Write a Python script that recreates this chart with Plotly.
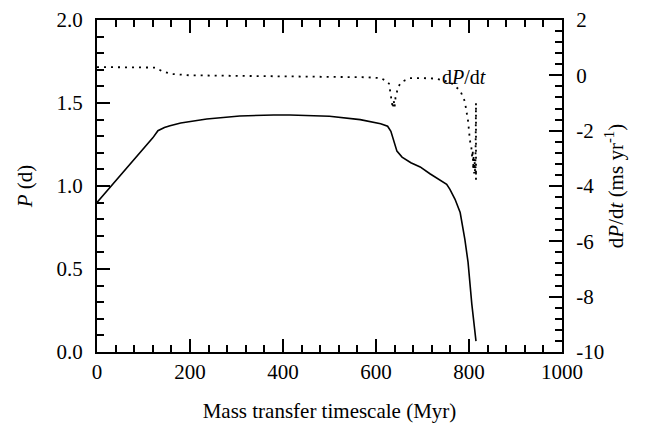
import plotly.graph_objects as go

# Period P (d) vs mass transfer timescale
t_p = [0, 40, 80, 120, 131, 145, 157, 180, 236, 307, 380, 415, 500, 566, 610,
       625, 632, 638, 645, 656, 675, 695, 716, 752, 759, 770, 781, 791, 798, 806, 815]
P = [0.90, 1.03, 1.16, 1.29, 1.333, 1.352, 1.363, 1.38, 1.404, 1.422, 1.428, 1.428,
     1.42, 1.40, 1.375, 1.36, 1.33, 1.27, 1.21, 1.174, 1.14, 1.115, 1.074, 1.01,
     0.98, 0.92, 0.84, 0.68, 0.54, 0.29, 0.065]

# dP/dt (ms/yr)
t_d = [0, 40, 80, 110, 125, 140, 160, 200, 300, 400, 500, 580, 610, 622, 628,
       631, 634, 636, 638, 640, 642, 645, 648, 656, 673, 700, 730, 760, 781, 791,
       798, 802, 805, 807, 808, 809, 810, 811, 812, 813, 814, 815, 815, 815]
dPdt = [0.30, 0.30, 0.30, 0.30, 0.28, 0.15, 0.05, 0.0, -0.02, -0.03, -0.05, -0.07,
        -0.1, -0.2, -0.3, -0.65, -1.0, -1.19, -0.9, -1.15, -0.8, -0.6, -0.4, -0.23,
        -0.1, -0.1, -0.12, -0.25, -0.55, -0.94, -1.65, -2.35, -2.6, -3.0, -2.7,
        -3.4, -2.9, -3.55, -3.1, -3.5, -3.0, -1.0, -3.77, -3.3]

# tick labels
x_ticks = [0, 200, 400, 600, 800, 1000]
x_labels = ["0", "200", "400", "600", "800", "1000"]
p_ticks = [0.0, 0.5, 1.0, 1.5, 2.0]
p_labels = ["0.0", "0.5", "1.0", "1.5", "2.0"]
d_ticks = [-10, -8, -6, -4, -2, 0, 2]
d_labels = ["-10", "-8", "-6", "-4", "-2", "0", "2"]

FONT = "Liberation Serif"
FS = 21

fig = go.Figure()
fig.add_trace(go.Scatter(x=t_p, y=P, mode="lines", line=dict(color="black", width=1.6),
                         yaxis="y", showlegend=False))
fig.add_trace(go.Scatter(x=t_d, y=dPdt, mode="lines",
                         line=dict(color="black", width=1.8, dash="2px,5px"),
                         yaxis="y2", showlegend=False))

axis_common = dict(showgrid=False, zeroline=False, showline=True, linecolor="black",
                   linewidth=2, ticks="inside", ticklen=13, tickwidth=2, tickcolor="black",
                   automargin=False, ticklabeloverflow="allow", tickmode="array",
                   tickfont=dict(family=FONT, size=FS, color="black"))

fig.update_layout(
    width=647, height=428,
    margin=dict(l=89, r=93, t=12, b=84),
    paper_bgcolor="white", plot_bgcolor="white",
    font=dict(family=FONT, size=FS, color="black"),
    xaxis=dict(range=[0, 1000], tickvals=x_ticks, ticktext=x_labels, mirror="ticks",
               minor=dict(dtick=40, ticks="inside", ticklen=7, tickwidth=2, tickcolor="black"),
               title=dict(text="Mass transfer timescale (Myr)", font=dict(family=FONT, size=FS),
                          standoff=20),
               **axis_common),
    yaxis=dict(range=[0, 2], tickvals=p_ticks, ticktext=p_labels, ticklabelstandoff=8,
               minor=dict(dtick=0.1, ticks="inside", ticklen=7, tickwidth=2, tickcolor="black"),
               title=dict(text="<i>P</i> (d)", font=dict(family=FONT, size=FS), standoff=18),
               **axis_common),
    yaxis2=dict(range=[-10, 2], tickvals=d_ticks, ticktext=d_labels, ticklabelstandoff=8,
                overlaying="y", side="right",
                minor=dict(dtick=0.4, ticks="inside", ticklen=7, tickwidth=2, tickcolor="black"),
                title=dict(text="d<i>P</i>/d<i>t</i> (ms yr<sup>-1</sup>)",
                           font=dict(family=FONT, size=FS), standoff=5),
                **axis_common),
    annotations=[dict(x=790, y=-0.05, xref="x", yref="y2", yanchor="middle",
                      text="d<i>P</i>/d<i>t</i>", showarrow=False,
                      font=dict(family=FONT, size=FS - 1, color="black"))],
)

fig.write_html("out.html")
